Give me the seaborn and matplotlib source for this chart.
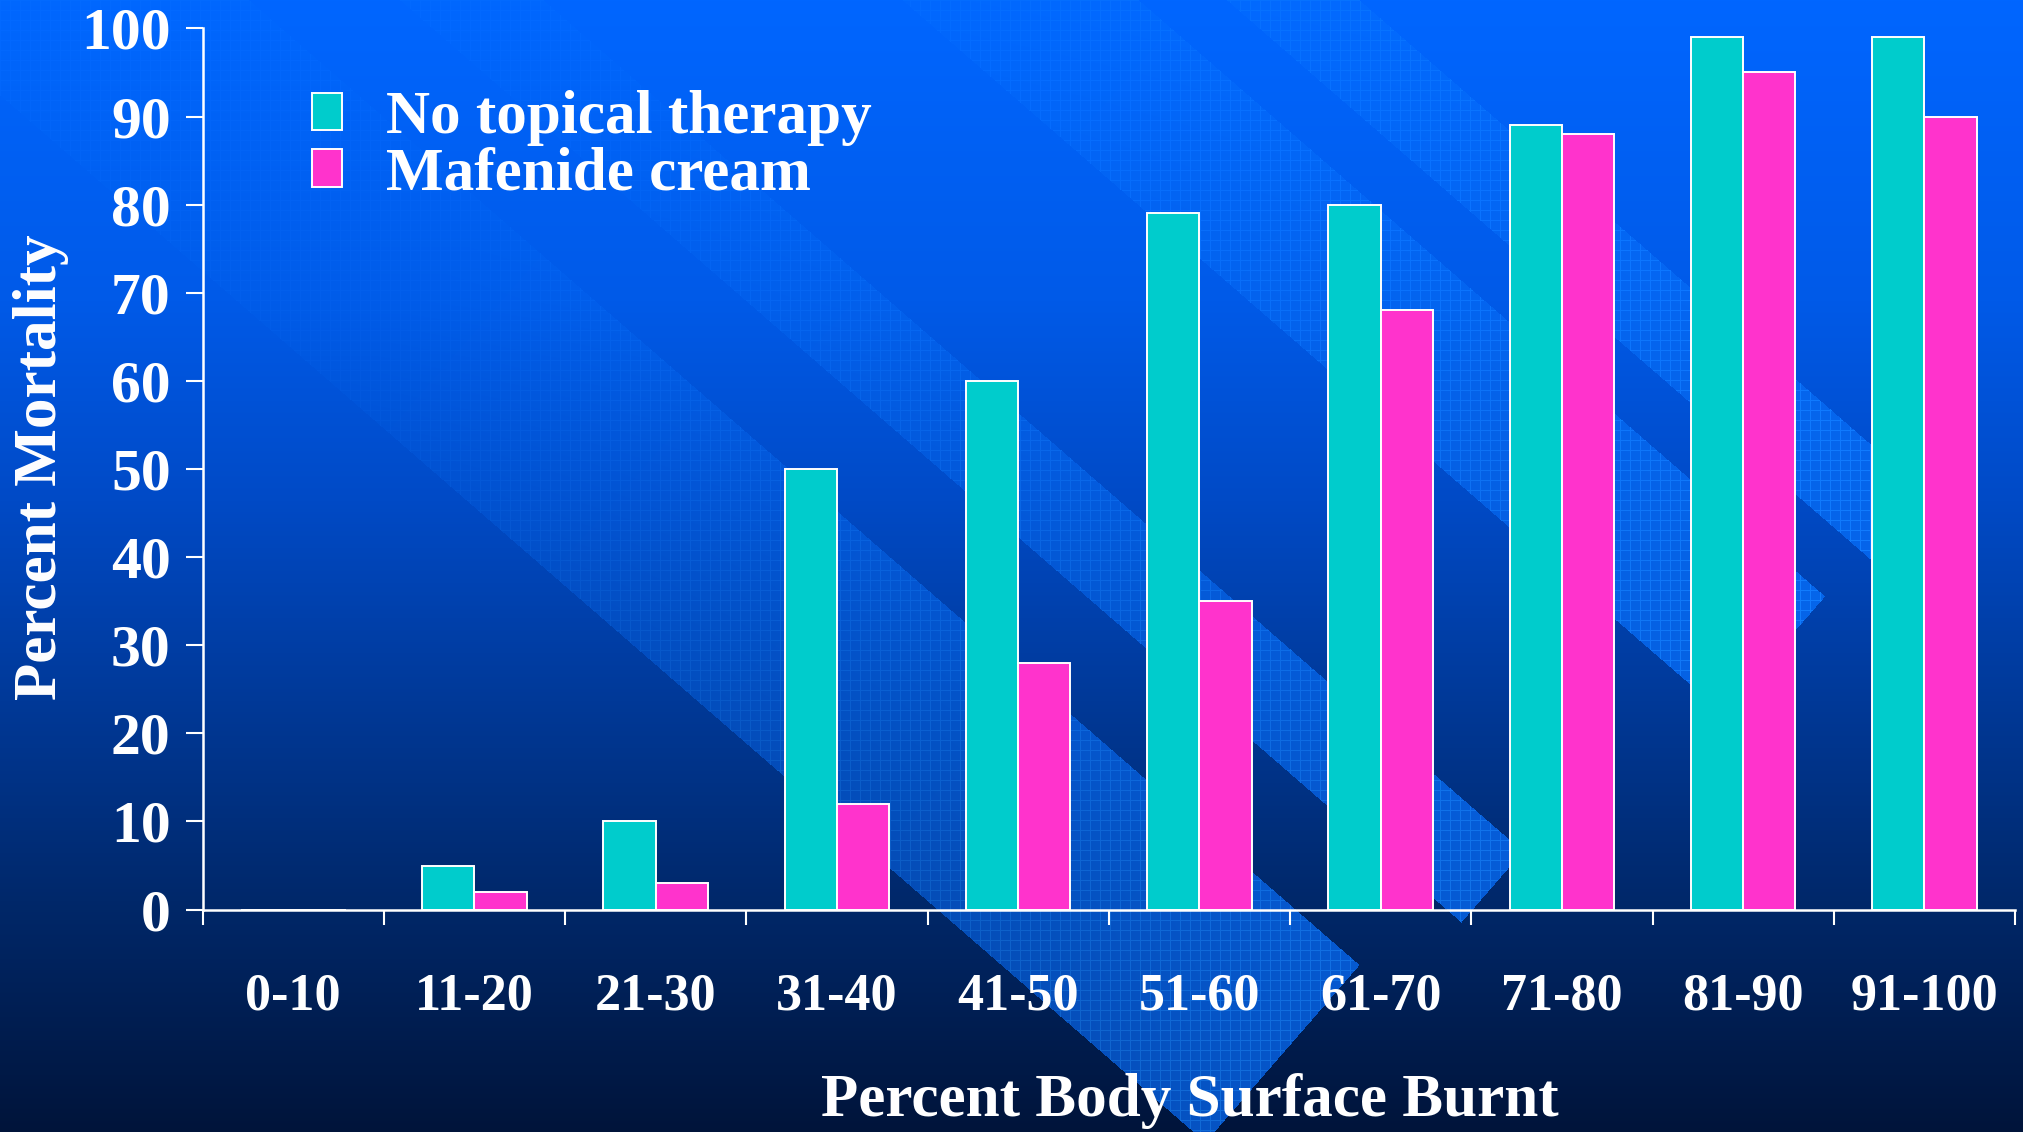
import numpy as np
import pandas as pd
import matplotlib
matplotlib.use("Agg")
import matplotlib.pyplot as plt
import seaborn as sns

# ---- data -------------------------------------------------------------
burn_ranges = ["0-10", "11-20", "21-30", "31-40", "41-50",
               "51-60", "61-70", "71-80", "81-90", "91-100"]
no_topical = [0, 5, 10, 50, 60, 79, 80, 89, 99, 99]
mafenide = [0, 2, 3, 12, 28, 35, 68, 88, 95, 90]
series_names = ["No topical therapy", "Mafenide cream"]
y_ticks = [0, 10, 20, 30, 40, 50, 60, 70, 80, 90, 100]

df = pd.DataFrame({
    "range": burn_ranges * 2,
    "treatment": [series_names[0]] * len(burn_ranges) + [series_names[1]] * len(burn_ranges),
    "mortality": no_topical + mafenide,
})

# ---- style ------------------------------------------------------------
sns.set_theme(style="ticks")
plt.rcParams["font.family"] = ["Liberation Serif", "DejaVu Serif"]
plt.rcParams["font.weight"] = "bold"

W, H = 2023, 1132
fig = plt.figure(figsize=(W / 100, H / 100), dpi=100)

# ---- slide background: vertical blue gradient with diagonal bands ----
yy, xx = np.mgrid[0:H, 0:W].astype(float)
stops_y = [0, 300, 500, 700, 900, 1132]
stops_c = np.array([[0, 102, 255], [0, 90, 232], [0, 74, 198],
                    [0, 57, 152], [0, 40, 106], [0, 20, 58]], float)


def grad(y):
    return np.stack([np.interp(y, stops_y, stops_c[:, k]) for k in range(3)], -1)


img = grad(yy)
band_col = np.clip(grad(yy * 0.45) + np.array([6, 10, 0]), 0, 255)
grid_line = ((xx.astype(int) % 10) == 0) | ((yy.astype(int) % 10) == 0)

d = np.array([0.755, 0.656])
n = np.array([0.656, -0.755])
bands = [((1205, 1142), 235), ((1461, 922), 94), ((1723, 713), 155), ((1900, 585), 87)]
for (dx, dy), w in bands:
    u = (xx - dx) * d[0] + (yy - dy) * d[1]
    v = (xx - dx) * n[0] + (yy - dy) * n[1]
    inside = (u <= 0) & (v >= 0) & (v <= w)
    fade = np.clip(1 + u / 1300, 0.12, 1)[..., None]
    col = img + (band_col - img) * fade
    col = col + grid_line[..., None] * (np.array([12, 24, 20]) * fade)
    img[inside] = col[inside]

img = np.clip(img, 0, 255).astype(np.uint8)
bg_ax = fig.add_axes([0, 0, 1, 1], zorder=-10)
bg_ax.imshow(img, extent=(0, W, H, 0), aspect="auto", interpolation="nearest")
bg_ax.set_xlim(0, W)
bg_ax.set_ylim(H, 0)
bg_ax.axis("off")

# ---- bar chart --------------------------------------------------------
ax_left, ax_right = 202.6, 2015.0
ax_top, ax_bottom = 28.4, 909.6
ax = fig.add_axes([ax_left / W, 1 - ax_bottom / H,
                   (ax_right - ax_left) / W, (ax_bottom - ax_top) / H])
ax.patch.set_alpha(0)

teal, pink = "#00CCCC", "#FF33CC"
sns.barplot(data=df, x="range", y="mortality", hue="treatment",
            palette=[teal, pink], saturation=1, width=0.577, gap=0,
            edgecolor="white", linewidth=1.4, errorbar=None, ax=ax)

ax.set_xlim(-0.5, len(burn_ranges) - 0.5)
ax.set_ylim(0, 100)
ax.set_yticks(y_ticks)
ax.set_yticklabels([str(t) for t in y_ticks])
ax.set_xticks(range(len(burn_ranges)))
ax.set_xticklabels(burn_ranges)
ax.set_xticks(np.arange(-0.5, len(burn_ranges)), minor=True)

for side in ("top", "right"):
    ax.spines[side].set_visible(False)
for side in ("left", "bottom"):
    ax.spines[side].set_color("white")
    ax.spines[side].set_linewidth(1.8)

ax.tick_params(axis="y", which="major", colors="white", length=12, width=1.5,
               pad=11, labelsize=43)
ax.tick_params(axis="x", which="major", length=0, pad=45, labelsize=37.5,
               labelcolor="white")
ax.tick_params(axis="x", which="minor", length=11, width=1.5, color="white",
               direction="out")
for lbl in ax.get_xticklabels() + ax.get_yticklabels():
    lbl.set_fontweight("bold")

ax.set_xlabel("Percent Body Surface Burnt", fontsize=44, fontweight="bold",
              color="white")
ax.xaxis.set_label_coords((1190 - ax_left) / (ax_right - ax_left),
                          (ax_bottom - 1101) / (ax_bottom - ax_top))
ax.xaxis.label.set_va("center")
ax.set_ylabel("Percent Mortality", fontsize=44, fontweight="bold", color="white")
ax.yaxis.set_label_coords((41 - ax_left) / (ax_right - ax_left),
                          (ax_bottom - 467) / (ax_bottom - ax_top))
ax.yaxis.label.set_va("center")

handles, labels = ax.get_legend_handles_labels()
if ax.get_legend() is not None:
    ax.get_legend().remove()
leg = fig.legend(handles, labels, loc="upper left",
                 bbox_to_anchor=(312 / W, 1 - 90 / H), bbox_transform=fig.transFigure,
                 frameon=False, fontsize=44, handlelength=0.49, handleheight=0.57,
                 handletextpad=0.72, labelspacing=0.01, borderpad=0,
                 borderaxespad=0)
for t in leg.get_texts():
    t.set_color("white")
    t.set_fontweight("bold")

fig.savefig("out.png", dpi=100)
